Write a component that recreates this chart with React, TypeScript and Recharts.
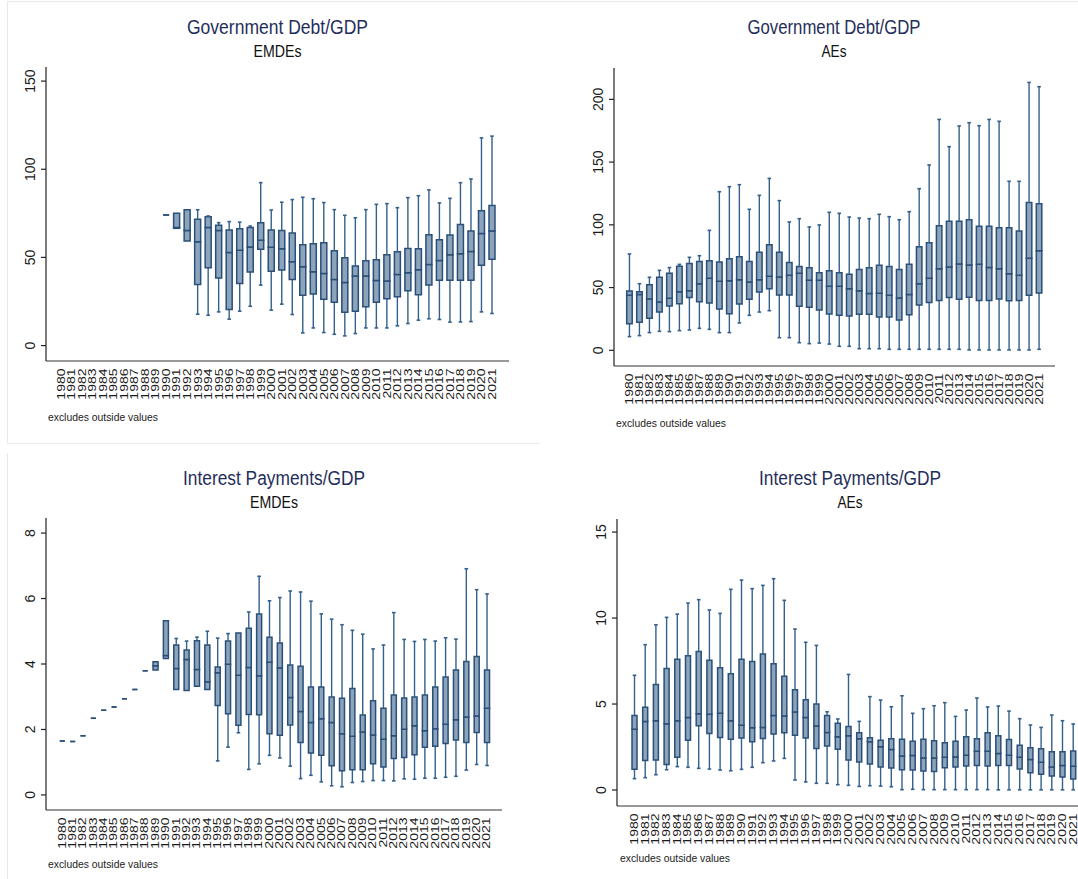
import React from 'react';
import { ComposedChart, Bar, XAxis, YAxis } from 'recharts';

type N = number | null;

const years: string[] = [
  '1980', '1981', '1982', '1983', '1984', '1985', '1986', '1987', '1988', '1989',
  '1990', '1991', '1992', '1993', '1994', '1995', '1996', '1997', '1998', '1999',
  '2000', '2001', '2002', '2003', '2004', '2005', '2006', '2007', '2008', '2009',
  '2010', '2011', '2012', '2013', '2014', '2015', '2016', '2017', '2018', '2019',
  '2020', '2021',
];

const none10: N[] = [null, null, null, null, null, null, null, null, null, null];

// Government Debt/GDP - EMDEs (1990-2021)
const emdeDebtMin: N[] = [...none10, 74, 66.5, 59.3, 17.8, 17.2, 19.1, 15, 19.5, 22.3, 34.3, 20.1, 23.5, 17.6, 7.2, 10, 7.4, 6.4, 5.5, 6.8, 10, 10, 10, 11.2, 12.5, 14.4, 15.2, 14.8, 13.3, 13.4, 13.6, 19.1, 18.2];
const emdeDebtQ1: N[] = [...none10, 74, 66.5, 59.3, 34.7, 44.1, 38.3, 20.5, 35.2, 41.7, 54.7, 42.2, 42.8, 37.5, 28.6, 29.2, 26.3, 24.6, 18.9, 19.5, 22, 24.6, 26.5, 27.7, 31.1, 28.8, 34.3, 37.1, 37.1, 37.1, 37.1, 45.6, 48.9];
const emdeDebtMed: N[] = [...none10, 74, 67, 65.2, 58.9, 66.9, 65.2, 52.8, 54, 55.9, 59.8, 55.7, 54.9, 47.5, 44.7, 41.9, 40.9, 37.5, 35.8, 39.4, 39.4, 36.9, 36.6, 40.3, 41.3, 43, 46, 48.3, 51.5, 52.1, 53.4, 63.6, 65];
const emdeDebtQ3: N[] = [...none10, 74, 75, 77, 71.6, 73, 68.2, 65.5, 66.3, 67, 69.7, 65.5, 65.2, 63.8, 57.2, 57.8, 58.3, 53.8, 49.8, 45.1, 48.1, 48.7, 51.5, 53.2, 55.1, 54.9, 62.9, 60, 62.7, 68.6, 65, 76.5, 79.4];
const emdeDebtMax: N[] = [...none10, 74, 75, 77, 77, 73.5, 69.7, 70.3, 70, 67.8, 92.4, 76.9, 81.3, 82.8, 84.1, 83.3, 81.1, 77.1, 73.9, 72.5, 77.1, 80.1, 80.5, 78.2, 83.9, 85, 88.3, 80.9, 83.5, 92.4, 94.5, 117.8, 118.8];

// Government Debt/GDP - AEs
const aeDebtMin: N[] = [10.9, 11.7, 14.1, 15.1, 14.9, 15.7, 16.2, 17.5, 16.7, 14.1, 14.1, 21.8, 27.9, 30.5, 31.6, 10.1, 10.1, 6.1, 5.3, 5.8, 5, 3.2, 3.2, 1.3, 1.3, 1.3, 0.8, 0.8, 0.8, 0.8, 0.8, 0.8, 0.8, 0.8, 0.3, 0.3, 0.3, 0.3, 0.3, 0.3, 0.3, 0.8];
const aeDebtQ1: N[] = [21.2, 22.3, 25.5, 30.5, 35.3, 37.2, 42, 38.8, 37.7, 32.9, 29.2, 36.9, 40.6, 46.5, 49.1, 44.1, 44.1, 35.1, 34.3, 32.1, 29, 27.9, 27.4, 28.7, 28.7, 26.6, 26.6, 24.2, 28.4, 36.1, 38.2, 39.8, 42, 40.6, 42.2, 39.8, 39.8, 40.9, 39.6, 39.8, 43.8, 45.7];
const aeDebtMed: N[] = [43.8, 44.4, 40.9, 38.5, 41.4, 46.7, 47.5, 53.1, 57.4, 55, 55.5, 56.3, 54.4, 56.3, 59, 58.4, 59.8, 61.4, 55.8, 55.8, 51, 51, 49.1, 47.5, 45.2, 45.4, 43.8, 41.7, 44.4, 53.1, 57.4, 65.1, 66.4, 68.8, 68, 68.5, 66.1, 65.1, 61.1, 59.8, 73.3, 79.4];
const aeDebtQ3: N[] = [47.3, 46.7, 52.3, 58.2, 61.4, 66.9, 69.1, 70.7, 71.4, 70.4, 73, 74.6, 70.7, 78.1, 84.2, 78.1, 69.9, 66.7, 65.9, 61.9, 63.5, 61.9, 60.6, 64.5, 65.9, 67.7, 66.7, 64.5, 68.5, 82.6, 85.8, 99.3, 102.8, 102.8, 104.1, 98.8, 98.8, 97.7, 97.7, 95.1, 117.9, 116.9];
const aeDebtMax: N[] = [76.8, 53.1, 58.2, 63.7, 65.9, 68.5, 74.1, 75.4, 95.6, 126.4, 130.4, 132, 112.4, 123.5, 137, 119.3, 102.3, 104.9, 98.3, 99.9, 110, 109.2, 106.2, 105.4, 104.9, 108.4, 106.5, 104.1, 110.5, 128.8, 147.7, 184, 162.3, 178.8, 181.4, 179, 184, 182.5, 134.7, 134.7, 213.5, 210.1];

// Interest Payments/GDP - EMDEs
const emdeIntMin: N[] = [1.65, 1.63, 1.81, 2.34, 2.59, 2.69, 2.94, 3.22, 3.79, 3.82, 4.17, 3.22, 3.19, 3.32, 3.22, 1.04, 1.46, 1.9, 0.78, 0.95, 1.21, 1.13, 0.88, 0.5, 0.6, 0.4, 0.28, 0.25, 0.38, 0.41, 0.44, 0.44, 0.43, 0.49, 0.48, 0.51, 0.51, 0.54, 0.57, 0.76, 0.93, 0.9];
const emdeIntQ1: N[] = [1.65, 1.63, 1.81, 2.34, 2.59, 2.69, 2.94, 3.22, 3.79, 3.82, 4.17, 3.22, 3.19, 3.32, 3.22, 2.73, 2.48, 2.13, 2.46, 2.45, 1.87, 1.82, 2.14, 1.6, 1.28, 1.21, 0.89, 0.74, 0.77, 0.77, 0.95, 0.85, 1.11, 1.14, 1.23, 1.46, 1.49, 1.57, 1.68, 1.6, 1.91, 1.6];
const emdeIntMed: N[] = [1.65, 1.63, 1.81, 2.34, 2.59, 2.69, 2.94, 3.22, 3.79, 3.95, 4.26, 3.86, 4.14, 3.83, 3.46, 3.73, 3.99, 3.66, 3.89, 3.64, 4.05, 3.88, 2.98, 2.55, 2.21, 2.33, 2.21, 1.87, 1.79, 1.92, 1.83, 1.7, 1.81, 2.01, 2.11, 1.96, 2.02, 2.16, 2.3, 2.38, 2.41, 2.65];
const emdeIntQ3: N[] = [1.65, 1.63, 1.81, 2.34, 2.59, 2.69, 2.94, 3.22, 3.79, 4.07, 5.32, 4.58, 4.43, 4.71, 4.58, 3.91, 4.7, 4.95, 5.09, 5.53, 4.82, 4.64, 3.97, 3.93, 3.3, 3.3, 2.99, 2.95, 3.25, 2.44, 2.88, 2.65, 3.05, 2.96, 2.99, 3.05, 3.3, 3.6, 3.82, 4.08, 4.23, 3.82];
const emdeIntMax: N[] = [1.65, 1.63, 1.81, 2.34, 2.59, 2.69, 2.94, 3.22, 3.79, 4.07, 5.32, 4.78, 4.7, 4.82, 5.0, 4.79, 4.93, 4.95, 5.59, 6.68, 5.93, 6.03, 6.23, 6.2, 5.92, 5.53, 5.37, 5.2, 5.03, 4.91, 4.46, 4.58, 5.57, 4.75, 4.69, 4.75, 4.7, 4.8, 4.76, 6.91, 6.27, 6.14];

// Interest Payments/GDP - AEs
const aeIntMin: N[] = [0.66, 0.72, 0.89, 1.18, 1.36, 1.32, 1.26, 1.22, 1.16, 1.12, 1.2, 1.32, 1.59, 1.69, 1.84, 0.58, 0.47, 0.39, 0.39, 0.31, 0.27, 0.21, 0.25, 0.23, 0.19, 0.02, 0.04, 0.02, 0.02, 0.02, 0.02, 0.02, 0.02, 0.02, 0.01, 0.01, 0.01, 0.01, 0.01, 0.01, 0.01, 0.01];
const aeIntQ1: N[] = [1.2, 1.71, 1.74, 1.49, 1.9, 2.89, 3.74, 3.29, 3.06, 2.95, 3.02, 2.81, 3.0, 3.26, 3.33, 3.18, 3.02, 2.42, 2.56, 2.37, 1.74, 1.63, 1.51, 1.34, 1.28, 1.18, 1.16, 1.1, 1.07, 1.3, 1.34, 1.4, 1.43, 1.4, 1.43, 1.43, 1.22, 1.01, 0.91, 0.81, 0.76, 0.64];
const aeIntMed: N[] = [3.53, 3.99, 4.03, 3.86, 4.03, 4.22, 4.44, 4.4, 4.46, 4.03, 3.76, 3.62, 3.64, 4.34, 4.3, 4.53, 4.22, 3.72, 3.35, 3.1, 3.16, 2.98, 2.81, 2.52, 2.36, 1.98, 2.0, 1.86, 1.86, 1.9, 1.92, 2.02, 2.25, 2.25, 2.13, 2.02, 1.9, 1.78, 1.61, 1.34, 1.43, 1.38];
const aeIntQ3: N[] = [4.34, 4.81, 6.14, 7.07, 7.6, 7.81, 8.06, 7.54, 7.11, 6.76, 7.6, 7.48, 7.91, 7.34, 6.61, 5.83, 5.25, 5.0, 4.34, 3.88, 3.7, 3.33, 3.04, 2.89, 2.98, 2.95, 2.83, 2.95, 2.87, 2.75, 2.83, 3.1, 2.98, 3.33, 3.16, 2.93, 2.6, 2.46, 2.4, 2.23, 2.23, 2.27];
const aeIntMax: N[] = [6.67, 8.45, 9.61, 10.04, 10.23, 10.87, 11.07, 10.47, 10.27, 11.67, 12.21, 11.71, 11.9, 12.29, 11.03, 9.36, 8.59, 8.41, 4.55, 4.13, 6.72, 3.99, 5.43, 5.23, 4.84, 5.48, 4.46, 4.73, 4.9, 5.08, 4.28, 4.65, 5.35, 4.83, 4.88, 4.59, 4.15, 3.78, 3.64, 4.36, 4.03, 3.84];

const debtTicksEmde = [0, 50, 100, 150];
const debtTicksAe = [0, 50, 100, 150, 200];
const intTicksEmde = [0, 2, 4, 6, 8];
const intTicksAe = [0, 5, 10, 15];

const FONT = '"Liberation Sans", Arial, Helvetica, sans-serif';
const BOX_FILL = '#8ba3bb';
const BOX_STROKE = '#2a4f78';
const WHISK = '#33608c';
const TITLE = '#1f2e5c';

function buildRows(min: N[], q1: N[], med: N[], q3: N[], max: N[]) {
  return years.map((year, i) => {
    const a = min[i], b = q1[i], c = med[i], d = q3[i], e = max[i];
    if (a == null || b == null || c == null || d == null || e == null) {
      return { year, has: false, base: null, w1: null, b1: null, b2: null, w2: null };
    }
    return { year, has: true, base: a, w1: b - a, b1: c - b, b2: d - c, w2: e - d };
  });
}

function norm(p: any) {
  const y = Number(p.y) || 0;
  const h = Number(p.height) || 0;
  const top = Math.min(y, y + h);
  const bottom = Math.max(y, y + h);
  return { top, bottom, x: Number(p.x) || 0, w: Number(p.width) || 0 };
}

const EmptyShape = () => <g />;

const LowWhisker = (p: any) => {
  if (!p.payload || !p.payload.has) return <g />;
  const { top, bottom, x, w } = norm(p);
  if (bottom - top < 0.3) return <g />;
  const cx = x + w / 2;
  return (
    <g>
      <line x1={cx} x2={cx} y1={top} y2={bottom} stroke={WHISK} strokeWidth={1.4} />
      <line x1={cx - 1.8} x2={cx + 1.8} y1={bottom} y2={bottom} stroke={WHISK} strokeWidth={1.6} />
    </g>
  );
};

const HighWhisker = (p: any) => {
  if (!p.payload || !p.payload.has) return <g />;
  const { top, bottom, x, w } = norm(p);
  if (bottom - top < 0.3) return <g />;
  const cx = x + w / 2;
  return (
    <g>
      <line x1={cx} x2={cx} y1={top} y2={bottom} stroke={WHISK} strokeWidth={1.4} />
      <line x1={cx - 1.8} x2={cx + 1.8} y1={top} y2={top} stroke={WHISK} strokeWidth={1.6} />
    </g>
  );
};

const BoxShape = (p: any) => {
  if (!p.payload || !p.payload.has) return <g />;
  const { top, bottom, x, w } = norm(p);
  const d = `M${x},${top}H${x + w}V${bottom}H${x}Z`;
  return <path d={d} fill={BOX_FILL} stroke={BOX_STROKE} strokeWidth={1.5} />;
};

const XTick = (p: any) => {
  const { x, y, payload } = p;
  return (
    <text
      transform={`translate(${x + 3.6},${y + 7.5}) rotate(-90) scale(1,0.72)`}
      textAnchor="end"
      fontSize={14}
      fontFamily={FONT}
      fill="#1a1a1a"
    >
      {payload.value}
    </text>
  );
};

const YTick = (p: any) => {
  const { x, y, payload } = p;
  return (
    <text
      transform={`translate(${x - 6},${y}) rotate(-90)`}
      textAnchor="middle"
      fontSize={14}
      fontFamily={FONT}
      fill="#1a1a1a"
    >
      {payload.value}
    </text>
  );
};

type PanelProps = {
  left: number;
  top: number;
  width: number;
  height: number;
  margin: { top: number; right: number; bottom: number; left: number };
  rows: any[];
  domain: [number, number];
  ticks: number[];
  padL: number;
  padR: number;
  barSize: number;
};

function Panel(props: PanelProps) {
  const { left, top, width, height, margin, rows, domain, ticks, padL, padR, barSize } = props;
  return (
    <div style={{ position: 'absolute', left, top, width, height }}>
      <ComposedChart width={width} height={height} data={rows} margin={margin} barCategoryGap={0} barGap={0}>
        <XAxis
          dataKey="year"
          type="category"
          interval={0}
          tick={<XTick />}
          tickLine={false}
          tickSize={0}
          tickMargin={0}
          height={30}
          axisLine={{ stroke: '#333', strokeWidth: 1.2 }}
          padding={{ left: padL, right: padR }}
        />
        <YAxis
          type="number"
          domain={domain}
          ticks={ticks}
          interval={0}
          allowDataOverflow
          width={36}
          tick={<YTick />}
          tickSize={5}
          tickMargin={0}
          axisLine={{ stroke: '#222', strokeWidth: 1.2 }}
          tickLine={{ stroke: '#222', strokeWidth: 1.2 }}
        />
        <Bar dataKey="base" stackId="s" barSize={barSize} shape={EmptyShape} isAnimationActive={false} />
        <Bar dataKey="w1" stackId="s" barSize={barSize} shape={LowWhisker} isAnimationActive={false} />
        <Bar dataKey="b1" stackId="s" barSize={barSize} shape={BoxShape} isAnimationActive={false} />
        <Bar dataKey="b2" stackId="s" barSize={barSize} shape={BoxShape} isAnimationActive={false} />
        <Bar dataKey="w2" stackId="s" barSize={barSize} shape={HighWhisker} isAnimationActive={false} />
      </ComposedChart>
    </div>
  );
}

const rowsEmdeDebt = buildRows(emdeDebtMin, emdeDebtQ1, emdeDebtMed, emdeDebtQ3, emdeDebtMax);
const rowsAeDebt = buildRows(aeDebtMin, aeDebtQ1, aeDebtMed, aeDebtQ3, aeDebtMax);
const rowsEmdeInt = buildRows(emdeIntMin, emdeIntQ1, emdeIntMed, emdeIntQ3, emdeIntMax);
const rowsAeInt = buildRows(aeIntMin, aeIntQ1, aeIntMed, aeIntQ3, aeIntMax);

const titleDebt = 'Government Debt/GDP';
const titleInt = 'Interest Payments/GDP';
const subEmde = 'EMDEs';
const subAe = 'AEs';
const note = 'excludes outside values';

function Texts() {
  const T = (x: number, y: number, s: string, len: number) => (
    <text x={x} y={y} textAnchor="middle" fontSize={20} fontFamily={FONT} fill={TITLE} textLength={len} lengthAdjust="spacingAndGlyphs">{s}</text>
  );
  const S = (x: number, y: number, s: string, len: number) => (
    <text x={x} y={y} textAnchor="middle" fontSize={16} fontFamily={FONT} fill="#111" textLength={len} lengthAdjust="spacingAndGlyphs">{s}</text>
  );
  const Nn = (x: number, y: number) => (
    <text x={x} y={y} fontSize={11.5} fontFamily={FONT} fill="#222" textLength={110} lengthAdjust="spacingAndGlyphs">{note}</text>
  );
  return (
    <svg width={1078} height={879} style={{ position: 'absolute', left: 0, top: 0, pointerEvents: 'none' }}>
      <g stroke="#e4eaee" strokeWidth={1}>
        <line x1={7.5} y1={1.5} x2={1078} y2={1.5} />
        <line x1={7.5} y1={1.5} x2={7.5} y2={443.5} />
        <line x1={7.5} y1={443.5} x2={540} y2={443.5} />
        <line x1={7.5} y1={453} x2={7.5} y2={879} />
      </g>
      {T(277.5, 34.3, titleDebt, 181)}
      {S(277.5, 57.3, subEmde, 48)}
      {T(834, 34.3, titleDebt, 173)}
      {S(834, 57.3, subAe, 25)}
      {T(274, 485, titleInt, 182)}
      {S(274, 507.7, subEmde, 48)}
      {T(850, 485, titleInt, 182)}
      {S(850, 507.7, subAe, 25)}
      {Nn(48, 420.7)}
      {Nn(616, 427)}
      {Nn(48, 868)}
      {Nn(620, 862)}
    </svg>
  );
}

export default function App() {
  return (
    <div style={{ position: 'absolute', left: 0, top: 0, width: 1078, height: 879, overflow: 'hidden', background: '#fff' }}>
      <Panel left={0} top={0} width={540} height={440}
        margin={{ top: 67, right: 31, bottom: 49, left: 10 }}
        rows={rowsEmdeDebt} domain={[-8.75, 158]} ticks={debtTicksEmde} padL={10} padR={11.5} barSize={6} />
      <Panel left={540} top={0} width={538} height={440}
        margin={{ top: 68, right: 23, bottom: 44, left: 38 }}
        rows={rowsAeDebt} domain={[-12.5, 225]} ticks={debtTicksAe} padL={10.7} padR={10.7} barSize={5.5} />
      <Panel left={0} top={440} width={540} height={439}
        margin={{ top: 78, right: 38, bottom: 39, left: 10 }}
        rows={rowsEmdeInt} domain={[-0.46, 8.46]} ticks={intTicksEmde} padL={10.8} padR={10.1} barSize={5} />
      <Panel left={540} top={440} width={550} height={439}
        margin={{ top: 79, right: 7, bottom: 43, left: 41 }}
        rows={rowsAeInt} domain={[-0.93, 15.76]} ticks={intTicksAe} padL={12} padR={4.6} barSize={5} />
      <Texts />
    </div>
  );
}
